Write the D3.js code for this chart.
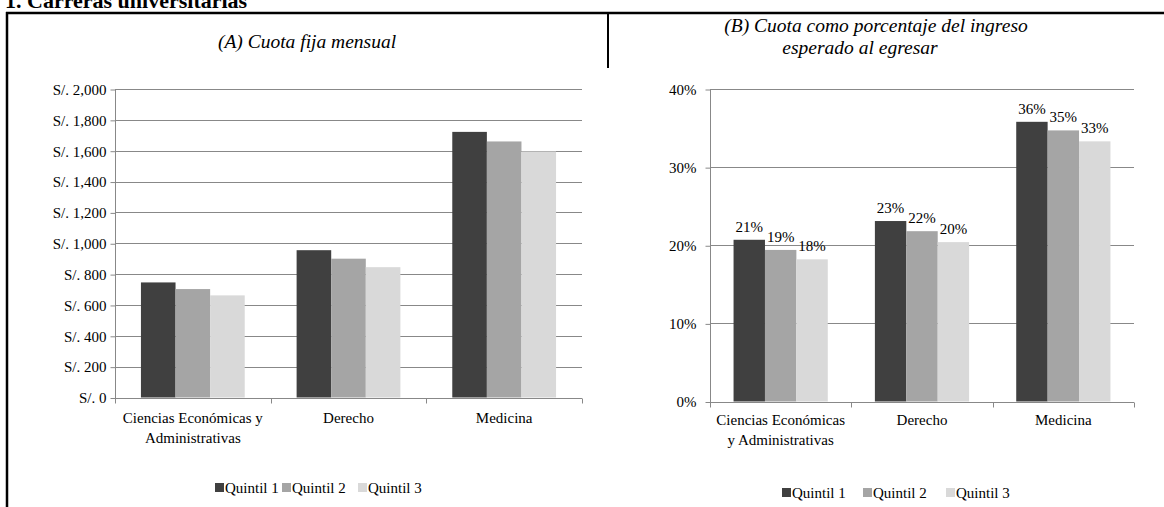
<!DOCTYPE html>
<html>
<head>
<meta charset="utf-8">
<script src="https://cdn.jsdelivr.net/npm/d3@7"></script>
<style>
  body { margin: 0; background: #fff; }
  svg text { font-family: "Liberation Serif", "DejaVu Serif", serif !important; }
</style>
</head>
<body>
<div id="chart-area"></div>
<script>
let categories = [["Ciencias Económicas y", "Administrativas"], ["Derecho"], ["Medicina"]];
let categoriesB = [["Ciencias Económicas", "y Administrativas"], ["Derecho"], ["Medicina"]];
let series = ["Quintil 1", "Quintil 2", "Quintil 3"];
let colors = ["#404040", "#a5a5a5", "#d9d9d9"];

// (A) cuota fija mensual, soles
let cuotaQ1 = [746, 955, 1722];
let cuotaQ2 = [703, 900, 1660];
let cuotaQ3 = [662, 845, 1595];
let ticksA = [0, 200, 400, 600, 800, 1000, 1200, 1400, 1600, 1800, 2000];

// (B) cuota como porcentaje del ingreso
let pctQ1 = [0.207, 0.231, 0.358];
let pctQ2 = [0.194, 0.218, 0.347];
let pctQ3 = [0.182, 0.204, 0.333];
let ticksB = [0, 0.1, 0.2, 0.3, 0.4];

let W = 1164, H = 507;
let svg = d3.select("#chart-area").append("svg")
  .attr("width", W).attr("height", H);

// frame
svg.append("text").attr("x", 5).attr("y", 8)
  .attr("font-size", "22px").attr("font-weight", "bold")
  .text("1. Carreras universitarias");
svg.append("line").attr("x1", 6).attr("x2", W).attr("y1", 13).attr("y2", 13)
  .attr("stroke", "#000").attr("stroke-width", 2.5);
svg.append("line").attr("x1", 7).attr("x2", 7).attr("y1", 12).attr("y2", H)
  .attr("stroke", "#000").attr("stroke-width", 2.5);
svg.append("line").attr("x1", 608).attr("x2", 608).attr("y1", 12).attr("y2", 68)
  .attr("stroke", "#000").attr("stroke-width", 2);

function drawChart(opt) {
  let g = svg.append("g");
  let x0 = d3.scaleBand().domain(d3.range(opt.cats.length)).range([opt.left, opt.right]);
  let bw = x0.bandwidth();
  let x1 = d3.scaleBand().domain(d3.range(series.length)).range([bw / 6, bw * 5 / 6]);
  let y = d3.scaleLinear().domain(opt.domain).range([opt.bottom, opt.top]);

  // gridlines
  g.append("g").selectAll("line").data(opt.ticks.slice(1)).enter().append("line")
    .attr("x1", opt.left).attr("x2", opt.right)
    .attr("y1", d => Math.round(y(d)) + 0.5).attr("y2", d => Math.round(y(d)) + 0.5)
    .attr("stroke", "#888").attr("stroke-width", 1);

  // bars
  opt.values.forEach((vals, s) => {
    g.append("g").selectAll("rect").data(vals).enter().append("rect")
      .attr("x", (d, i) => x0(i) + x1(s))
      .attr("width", x1.bandwidth())
      .attr("y", d => y(d))
      .attr("height", d => y(0) - y(d))
      .attr("fill", colors[s]);
    if (opt.labels) {
      g.append("g").selectAll("text").data(vals).enter().append("text")
        .attr("x", (d, i) => x0(i) + x1(s) + x1.bandwidth() / 2)
        .attr("y", d => y(d) - 8)
        .attr("text-anchor", "middle")
        .attr("font-size", "15px")
        .text(d => d3.format(".0%")(d));
    }
  });

  // y axis
  let axisLeft = d3.axisLeft(y).tickValues(opt.ticks).tickSize(5).tickFormat(opt.fmt);
  let ya = g.append("g").attr("transform", "translate(" + (opt.left + 0.5) + ",0.5)").call(axisLeft);
  ya.select(".domain").attr("stroke", "#888").attr("d", "M0," + y(opt.domain[1]) + "V" + y(0));
  ya.selectAll(".tick line").attr("stroke", "#888");
  ya.selectAll("text").attr("font-size", "15px")
    .attr("fill", "#000").attr("x", -opt.labelGap);

  // x axis
  let xa = g.append("g").attr("transform", "translate(0," + (Math.round(y(0)) + 0.5) + ")");
  xa.append("line").attr("x1", opt.left).attr("x2", opt.right).attr("stroke", "#888");
  xa.selectAll(".xt").data(d3.range(opt.cats.length + 1)).enter().append("line")
    .attr("x1", i => Math.round(opt.left + i * bw) + 0.5)
    .attr("x2", i => Math.round(opt.left + i * bw) + 0.5)
    .attr("y1", 0).attr("y2", 5).attr("stroke", "#888");
  opt.cats.forEach((lines, i) => {
    let t = g.append("text").attr("text-anchor", "middle").attr("font-size", "15px");
    lines.forEach((ln, k) => {
      t.append("tspan").attr("x", x0(i) + bw / 2).attr("y", opt.catY + k * 19.5).text(ln);
    });
  });

  // titles
  opt.title.forEach((ln, k) => {
    svg.append("text").attr("x", opt.titleX[k]).attr("y", opt.titleY + k * 22)
      .attr("text-anchor", "middle").attr("font-size", "19.5px").attr("font-style", "italic")
      .text(ln);
  });

  // legend
  let lg = svg.append("g");
  series.forEach((s, i) => {
    lg.append("rect").attr("x", opt.legX[i]).attr("y", opt.legY - 10)
      .attr("width", 9).attr("height", 9).attr("fill", colors[i]);
    lg.append("text").attr("x", opt.legX[i] + 10).attr("y", opt.legY)
      .attr("font-size", "15px").text(s);
  });
}

drawChart({
  cats: categories, values: [cuotaQ1, cuotaQ2, cuotaQ3],
  left: 115, right: 582, top: 89, bottom: 397.5,
  domain: [0, 2000], ticks: ticksA,
  fmt: d => "S/. " + d3.format(",")(d), labelGap: 9,
  labels: false, catY: 423,
  title: ["(A) Cuota fija mensual"], titleX: [307], titleY: 48,
  legX: [215, 282, 358], legY: 493
});

drawChart({
  cats: categoriesB, values: [pctQ1, pctQ2, pctQ3],
  left: 710, right: 1134, top: 89, bottom: 401.5,
  domain: [0, 0.4], ticks: ticksB,
  fmt: d3.format(".0%"), labelGap: 14,
  labels: true, catY: 425,
  title: ["(B) Cuota como porcentaje del ingreso", "esperado al egresar"], titleX: [876, 860], titleY: 32,
  legX: [782, 863, 946], legY: 498
});
</script>
</body>
</html>
